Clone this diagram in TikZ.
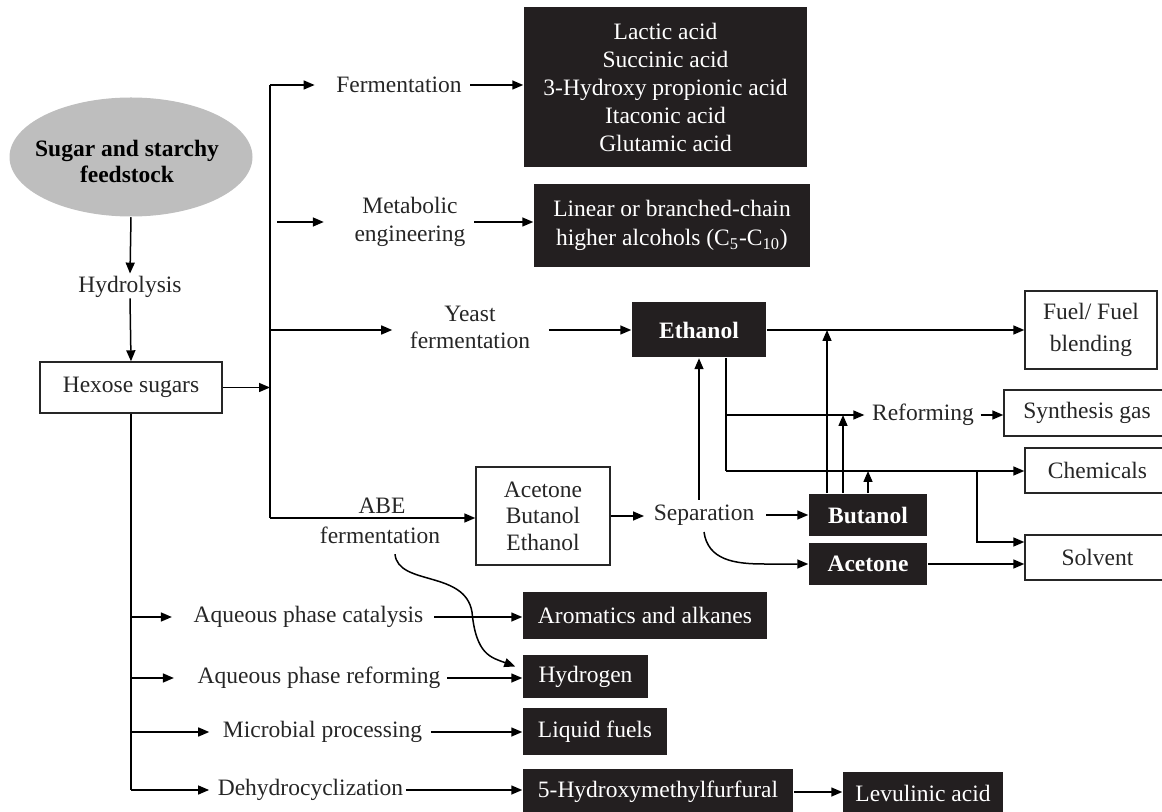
\documentclass[tikz,border=0pt]{standalone}
\usepackage{fontspec}
\setmainfont{Liberation Serif}
\usetikzlibrary{positioning, calc, shapes.geometric, arrows.meta}
\definecolor{boxblack}{RGB}{35,31,32}
\definecolor{feedgray}{RGB}{190,190,190}

\begin{document}
\begin{tikzpicture}[x=0.5pt, y=-0.5pt, line width=0.75pt,
  every node/.style={font=\fontsize{11.75}{14}\selectfont},
  feed/.style={ellipse, fill=feedgray, minimum width=121.5pt, minimum height=59.5pt, inner sep=0pt},
  feedtext/.style={align=center, inner sep=0pt, font=\fontsize{11.75}{13}\selectfont\bfseries},
  proc/.style={align=center, inner sep=0pt, text=black!85},
  whitebox/.style={rectangle, draw=black!85, line width=0.7pt, fill=white, align=center, inner sep=0pt, text=black!85},
  blackbox/.style={rectangle, fill=boxblack, text=white, align=center, inner sep=0pt},
  blackbold/.style={blackbox, font=\fontsize{11.75}{14}\selectfont\bfseries},
  arr/.style={-{Triangle[length=5.5pt, width=4.5pt]}}
]
    \useasboundingbox (0,0) rectangle (1162,812);

    % Feedstock
    \node[feed] (feed) at (131,157) {};
    \node[feedtext] (feedt) at (127,161) {Sugar and starchy\\feedstock};
    \node[proc] (hyd) at (130,287) {Hydrolysis};
    \node[whitebox, minimum width=91pt, minimum height=25.5pt] (hex) at (131,387.5) {Hexose sugars};

    % Trunk to the fermentation routes
    \coordinate (ttop) at (270,85);
    \coordinate (tbot) at (270,518);

    % Upper routes
    \node[proc] (ferm) at (399,85) {Fermentation};
    \node[blackbox, minimum width=141.5pt, minimum height=80pt] (acids) at (665.5,87) {Lactic acid\\Succinic acid\\3-Hydroxy propionic acid\\Itaconic acid\\Glutamic acid};
    \node[proc] (metab) at (410,222) {Metabolic\\engineering};
    \node[blackbox, minimum width=138pt, minimum height=41.5pt, font=\fontsize{11.75}{14.5}\selectfont] (alc) at (672,225.5) {Linear or branched-chain\\higher alcohols (C\textsubscript{5}-C\textsubscript{10})};
    \node[proc, font=\fontsize{11.75}{13.5}\selectfont] (yeast) at (470,327) {Yeast\\fermentation};
    \node[blackbold, minimum width=67pt, minimum height=27.5pt] (eth) at (699,330) {Ethanol};

    % Ethanol uses
    \node[whitebox, minimum width=66pt, minimum height=39pt, font=\fontsize{11.75}{16}\selectfont] (fuel) at (1091,330) {Fuel/ Fuel\\blending};
    \node[proc] (reform) at (923,415) {Reforming};
    \node[whitebox, minimum width=83pt, minimum height=23pt] (syn) at (1087,413) {Synthesis gas};
    \node[whitebox, minimum width=72.5pt, minimum height=22.5pt] (chem) at (1097.5,470.5) {Chemicals};
    \node[whitebox, minimum width=72.5pt, minimum height=22.5pt] (solv) at (1097.5,557.5) {Solvent};

    % ABE route
    \node[proc] (abe) at (382,506) {ABE};
    \node[proc] (abef) at (380,535) {fermentation};
    \node[whitebox, minimum width=67pt, minimum height=49pt, font=\fontsize{11.75}{13.25}\selectfont] (abebox) at (543,516) {Acetone\\Butanol\\Ethanol};
    \node[proc] (sep) at (704,515) {Separation};
    \node[blackbold, minimum width=59pt, minimum height=21pt] (but) at (868,515) {Butanol};
    \node[blackbold, minimum width=59pt, minimum height=21pt] (ace) at (868,564) {Acetone};

    % Lower routes
    \node[proc] (apc) at (308.5,617) {Aqueous phase catalysis};
    \node[blackbox, minimum width=122pt, minimum height=23.5pt] (arom) at (645,615.5) {Aromatics and alkanes};
    \node[proc] (apr) at (319,678) {Aqueous phase reforming};
    \node[blackbox, minimum width=62.5pt, minimum height=21.5pt] (hydro) at (585.5,676.5) {Hydrogen};
    \node[proc] (mic) at (322.5,732) {Microbial processing};
    \node[blackbox, minimum width=72pt, minimum height=23.5pt] (liq) at (595,731.5) {Liquid fuels};
    \node[proc] (dehy) at (310.5,790) {Dehydrocyclization};
    \node[blackbox, minimum width=135pt, minimum height=23pt] (hmf) at (658,792) {5-Hydroxymethylfurfural};
    \node[blackbox, minimum width=80pt, minimum height=21pt] (lev) at (923,793) {Levulinic acid};

    % Arrows, left column
    \draw[arr, shorten >=1pt] (feed.south) -- (hyd.north);
    \draw[arr] (hyd.south) -- (hex.north);
    \draw[arr] (hex.east) -- (hex.east -| ttop);
    \draw (ttop) -- (tbot);

    % Arrows, upper routes
    \draw[arr, shorten >=10.5pt] (ttop) -- (ferm.west);
    \draw[arr, shorten <=4pt] (ferm.east) -- (ferm.east -| acids.west);
    \draw[arr, shorten <=3.5pt, shorten >=15pt] (ttop |- metab) -- (metab.west);
    \draw[arr, shorten <=4pt] (metab.east) -- (metab.east -| alc.west);
    \draw[arr, shorten >=8.5pt] (ttop |- eth) -- (eth -| yeast.west);
    \draw[arr, shorten <=9pt] (eth -| yeast.east) -- (eth.west);
    \draw[arr] (eth.east) -- (fuel.west);

    % Arrows out of ethanol
    \coordinate (ed) at (726,471);
    \coordinate (sb) at (977,471);
    \draw (eth.south -| ed) -- (ed);
    \draw[arr, shorten >=3.5pt] (ed |- reform) -- (reform.west);
    \draw[arr, shorten <=3pt] (reform.east) -- (reform.east -| syn.west);
    \draw[arr] (ed) -- (ed -| chem.west);
    \draw[arr] (sb) |- ([yshift=7.75pt]solv.west);

    % Arrows, ABE route
    \draw[arr] (tbot) -- (tbot -| abebox.west);
    \draw[arr, shorten >=4.5pt] (abebox.east) -- (abebox.east -| sep.west);
    \draw[arr, shorten <=5.5pt] (sep.east) -- (sep.east -| but.west);
    \draw[arr, shorten <=2pt] (eth.south |- sep.north) -- (eth.south);
    \draw[arr] ([yshift=-3pt]sep.south) .. controls +(4,28) and +(-30,0) .. ([xshift=-22pt]ace.west) -- (ace.west);
    \draw[arr] (ace.east) -- (ace.east -| solv.west);
    \draw[arr] ([xshift=-20.5pt]but.north) -- ([xshift=-20.5pt]but.north |- eth.east);
    \draw[arr] ([xshift=-12.5pt]but.north) -- ([xshift=-12.5pt]but.north |- reform);
    \draw[arr] (but.north) -- (but.north |- ed);
    \draw[arr] ([xshift=7.5pt, yshift=-5pt]abef.south) .. controls +(3,32) and +(-7,-42) .. (472,612) .. controls +(4,43) and +(-24,-9) .. ([xshift=-3.5pt, yshift=5pt]hydro.west);

    % Arrows, lower routes
    \coordinate (lb) at (131,790);
    \draw (hex.south) -- (lb);
    \draw[arr, shorten >=10.5pt] (hex.south |- apc) -- (apc.west);
    \draw[arr, shorten <=5pt] (apc.east) -- (apc.east -| arom.west);
    \draw[arr, shorten >=11.5pt] (hex.south |- apr) -- (apr.west);
    \draw[arr, shorten <=3pt] (apr.east) -- (apr.east -| hydro.west);
    \draw[arr, shorten >=6.5pt] (hex.south |- mic) -- (mic.west);
    \draw[arr, shorten <=4pt] (mic.east) -- (mic.east -| liq.west);
    \draw[arr, shorten >=4pt] (lb) -- (dehy.west);
    \draw[arr, shorten <=1pt] (dehy.east) -- (dehy.east -| hmf.west);
    \draw[arr] (hmf.east) -- (hmf.east -| lev.west);

\end{tikzpicture}
\end{document}
